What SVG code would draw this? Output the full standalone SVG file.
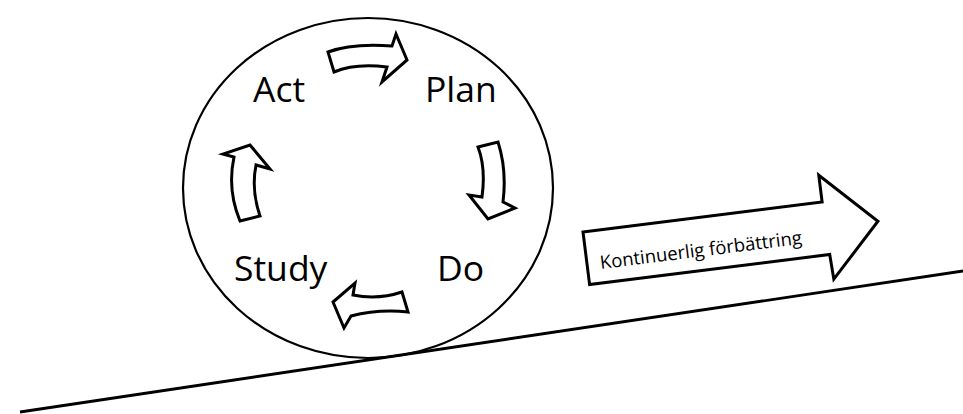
<svg xmlns="http://www.w3.org/2000/svg" width="963" height="414" viewBox="0 0 963 414">
<style>
.lbl{font-family:"Open Sans","Noto Sans",sans-serif;font-size:35.5px;fill:#000}
.blk{fill:#fff;stroke:#000;stroke-width:3;stroke-linejoin:miter}
.sm{font-family:"Open Sans","Noto Sans",sans-serif;font-size:18.5px;fill:#000}
</style>
<rect width="963" height="414" fill="#fff"/>
<g id="ground">
<line x1="20" y1="412" x2="963" y2="271" stroke="#000" stroke-width="2.8"/>
</g>
<g id="wheel">
<ellipse cx="368" cy="188" rx="185" ry="170" fill="none" stroke="#000" stroke-width="2.2"/>
</g>
<g id="node-act"><text class="lbl" x="253" y="102">Act</text></g>
<g id="node-plan"><text class="lbl" x="425" y="102">Plan</text></g>
<g id="node-do"><text class="lbl" x="437" y="281">Do</text></g>
<g id="node-study"><text class="lbl" x="234" y="281">Study</text></g>
<g id="connectors">
<path class="blk" d="M328,52 Q352,43 392,46 L396,34 L407,60 L382,82 L387,67 Q355,63 334,72 Z"/>
<path class="blk" d="M478,147 L498,142 Q507,170 503,202 L515,208 L488,219 L469,195 L482,197 Q486,168 478,147 Z"/>
<path class="blk" d="M402,292 L408,312 Q378,309 351,316 L344,328 L333,302 L355,283 L353,295 Q378,300 402,292 Z"/>
<path class="blk" d="M240,221 L260,216 Q251,190 256,165 L270,169 L250,145 L223,154 L234,157 Q227,190 240,221 Z"/>
</g>
<g id="node-improvement" transform="translate(583,232) rotate(-7.15)">
<path class="blk" d="M0,0 L241,0 L241,-27 L294,26 L243,78 L242,53 L0,53 Z"/>
<text class="sm" x="13" y="39">Kontinuerlig förbättring</text>
</g>
</svg>
